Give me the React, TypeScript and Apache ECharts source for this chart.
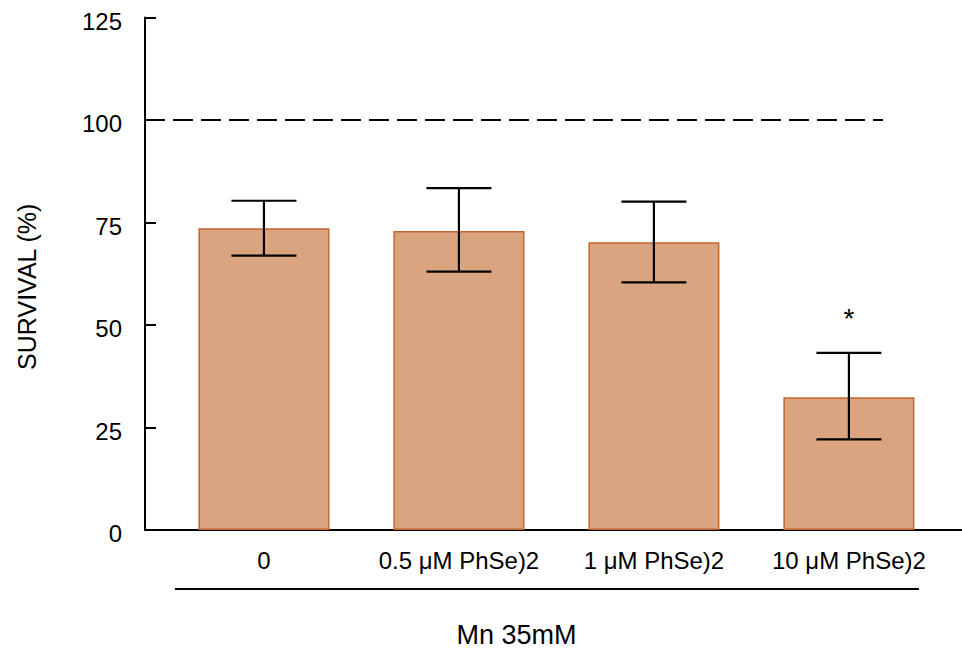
import React, { useEffect, useRef } from "react";
import * as echarts from "echarts";

const categories = ["0", "0.5 μM PhSe)2", "1 μM PhSe)2", "10 μM PhSe)2"];
const survival = [73.6, 72.9, 70.2, 32.4];
const errorHigh = [80.3, 83.4, 80.1, 43.2];
const errorLow = [66.9, 63.0, 60.4, 22.1];
const significance = ["", "", "", "*"];
const yTicks = [0, 25, 50, 75, 100, 125];
const controlLevel = 100;
const controlLineEnd = 3.175;
const xMin = -0.61;
const xMax = 3.58;
const yAxisTitle = "SURVIVAL (%)";
const groupTitle = "Mn 35mM";

export default function App() {
  const ref = useRef<HTMLDivElement>(null);

  useEffect(() => {
    document.body.style.margin = "0";
    if (!ref.current) return;
    const chart = echarts.init(ref.current, null, { renderer: "svg" });
    const font = "'Liberation Sans', Arial, sans-serif";

    const option: any = {
      animation: false,
      backgroundColor: "#ffffff",
      grid: {
        left: 145,
        right: 0,
        top: 17.5,
        bottom: 122,
        containLabel: false,
        outerBoundsMode: "none",
      },
      xAxis: {
        type: "value",
        min: xMin,
        max: xMax,
        axisLine: { show: true, onZero: false, lineStyle: { color: "#000", width: 2 } },
        axisTick: { show: false },
        splitLine: { show: false },
        axisLabel: {
          customValues: [0, 1, 2, 3],
          formatter: (v: number) => categories[Math.round(v)] ?? "",
          color: "#000",
          fontSize: 24,
          fontFamily: font,
          margin: 18,
        },
      },
      yAxis: {
        type: "value",
        min: yTicks[0],
        max: yTicks[yTicks.length - 1],
        interval: 25,
        name: yAxisTitle,
        nameLocation: "middle",
        nameRotate: 90,
        nameGap: 106,
        nameTextStyle: {
          color: "#000",
          fontSize: 25,
          fontFamily: font,
          padding: [0, 26, 0, 0],
        },
        axisLine: { show: true, onZero: false, lineStyle: { color: "#000", width: 2 } },
        axisTick: { show: true, inside: true, length: 11, lineStyle: { color: "#000", width: 2 } },
        splitLine: { show: false },
        axisLabel: {
          color: "#000",
          fontSize: 24,
          fontFamily: font,
          margin: 23,
          formatter: (v: number) => "{a|" + v + "}",
          rich: {
            a: { fontSize: 24, fontFamily: font, color: "#000", padding: [7, 0, 0, 0] },
          },
        },
      },
      series: [
        {
          type: "bar",
          data: survival.map((v, i) => [i, v]),
          barWidth: 131,
          itemStyle: { color: "#D9A47F", borderColor: "#C1652B", borderWidth: 1.5 },
          markLine: {
            silent: true,
            symbol: ["none", "none"],
            label: { show: false },
            lineStyle: { color: "#000", width: 2, type: [20, 8] },
            data: [[{ coord: [xMin, controlLevel] }, { coord: [controlLineEnd, controlLevel] }]],
          },
          z: 2,
        },
        {
          type: "custom",
          data: errorHigh.map((h, i) => [i, h, errorLow[i]]),
          z: 5,
          renderItem: (params: any, api: any) => {
            const x = api.value(0);
            const top = api.coord([x, api.value(1)]);
            const bot = api.coord([x, api.value(2)]);
            const half = 32.5;
            const style = { stroke: "#000", lineWidth: 2.2 };
            const children: any[] = [
              { type: "line", shape: { x1: top[0], y1: top[1], x2: bot[0], y2: bot[1] }, style },
              { type: "line", shape: { x1: top[0] - half, y1: top[1], x2: top[0] + half, y2: top[1] }, style },
              { type: "line", shape: { x1: bot[0] - half, y1: bot[1], x2: bot[0] + half, y2: bot[1] }, style },
            ];
            const mark = significance[params.dataIndex];
            if (mark) {
              children.push({
                type: "text",
                x: top[0],
                y: top[1] - 34,
                style: {
                  text: mark,
                  fill: "#000",
                  fontSize: 28,
                  fontFamily: font,
                  align: "center",
                  verticalAlign: "middle",
                },
              });
            }
            return { type: "group", children };
          },
        },
      ],
      graphic: [
        {
          type: "line",
          shape: { x1: 175, y1: 589, x2: 919, y2: 589 },
          style: { stroke: "#000", lineWidth: 2 },
        },
        {
          type: "text",
          x: 516.5,
          y: 635,
          style: {
            text: groupTitle,
            fill: "#000",
            fontSize: 27,
            fontFamily: font,
            align: "center",
            verticalAlign: "middle",
          },
        },
      ],
    };

    chart.setOption(option);
    return () => chart.dispose();
  }, []);

  return <div ref={ref} style={{ width: 962, height: 652 }} />;
}
